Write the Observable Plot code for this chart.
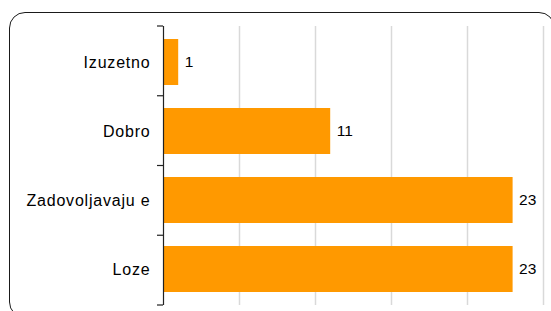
<!DOCTYPE html>
<html>
<head>
<meta charset="utf-8">
<script src="https://cdn.jsdelivr.net/npm/d3@7"></script>
<script src="https://cdn.jsdelivr.net/npm/@observablehq/plot@0.6"></script>
<style>
  html, body { margin: 0; padding: 0; background: #fff; overflow: hidden; }
  #wrap { position: relative; width: 551px; height: 311px; overflow: hidden; }
  #frame { position: absolute; left: 9px; top: 12px; width: 544px; height: 304px;
           border: 1.5px solid #1a1a1a; border-radius: 16px; pointer-events: none; }
  #chart { position: absolute; left: 0; top: 0; }
  #chart g[aria-label="y-axis tick label"] text { letter-spacing: 0.8px; }
</style>
</head>
<body>
<div id="wrap"><div id="chart"></div><div id="frame"></div></div>
<script>
const categories = ["Izuzetno", "Dobro", "Zadovoljavaju e", "Loze"];
const values = [1, 11, 23, 23];
const xTicks = [0, 5, 10, 15, 20, 25];

const data = categories.map((c, i) => ({category: c, value: values[i]}));

const W = 551, H = 311;
const mTop = 26, mBottom = 6, mLeft = 163, mRight = 8;

const boundaryTicks = (index, scales, values, dims) => {
  const g = d3.create("svg:g");
  const top = dims.marginTop, bottom = dims.height - dims.marginBottom;
  const n = categories.length;
  const x0 = scales.x(0);
  for (let i = 0; i <= n; i++) {
    const yy = top + (bottom - top) * i / n;
    g.append("line").attr("x1", x0 - 6).attr("x2", x0).attr("y1", yy).attr("y2", yy)
      .attr("stroke", "#222").attr("stroke-width", 1.2);
  }
  return g.node();
};

const chart = Plot.plot({
  width: W, height: H,
  marginTop: mTop, marginBottom: mBottom, marginLeft: mLeft, marginRight: mRight,
  style: {fontFamily: "'Liberation Sans', Arial, sans-serif", color: "#000", background: "transparent"},
  x: {domain: [0, 25], axis: null},
  y: {domain: categories, paddingInner: 0.34, paddingOuter: 0.17, axis: null},
  marks: [
    Plot.ruleX(xTicks.slice(1), {stroke: "#d9d9d9", strokeWidth: 1.5}),
    Plot.barX(data, {x: "value", y: "category", fill: "#ff9900"}),
    Plot.ruleX([0], {stroke: "#222", strokeWidth: 1.2}),
    boundaryTicks,
    Plot.text(data, {x: "value", y: "category", text: d => String(d.value), dx: 6,
      textAnchor: "start", fontSize: 15.5, fill: "#000"}),
    Plot.axisY({tickSize: 0, tickPadding: 13, fontSize: 16, fill: "#000", label: null})
  ]
});
document.getElementById("chart").appendChild(chart);
</script>
</body>
</html>
